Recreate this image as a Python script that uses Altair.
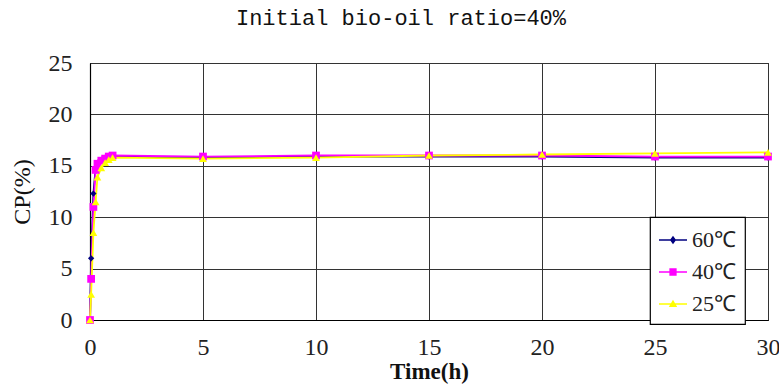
import altair as alt
import pandas as pd

# ---- data ----
times = [0, 0.05, 0.15, 0.25, 0.33, 0.5, 0.67, 0.83, 1, 5, 10, 15, 20, 25, 30]
cp_60 = [0, 6.0, 12.3, 14.8, 15.3, 15.6, 15.8, 15.9, 15.9, 15.8, 15.9, 15.9, 15.9, 15.8, 15.8]
cp_40 = [0, 4.0, 11.0, 14.6, 15.2, 15.5, 15.7, 15.9, 16.0, 15.9, 16.0, 16.0, 16.0, 15.9, 15.9]
cp_25 = [0, 2.5, 8.5, 11.5, 13.9, 14.8, 15.3, 15.6, 15.8, 15.7, 15.8, 16.0, 16.1, 16.2, 16.3]
series = ["60℃", "40℃", "25℃"]
colors = ["#000080", "#FF00FF", "#FFFF00"]
x_ticks = [0, 5, 10, 15, 20, 25, 30]
y_ticks = [0, 5, 10, 15, 20, 25]

rows = []
for name, vals in zip(series, [cp_60, cp_40, cp_25]):
    for t, v in zip(times, vals):
        rows.append({"Time": t, "CP": v, "Series": name})
df = pd.DataFrame(rows)

SERIF = "Liberation Serif"

x_enc = alt.X("Time:Q",
              scale=alt.Scale(domain=[0, 30], nice=False, zero=False),
              axis=alt.Axis(values=x_ticks, title="Time(h)", grid=True,
                            ticks=False, labelPadding=15, titlePadding=1,
                            labelFlush=False, format="d",
                            titleFontWeight="bold", titleFontSize=23))
y_enc = alt.Y("CP:Q",
              scale=alt.Scale(domain=[0, 25], nice=False),
              axis=alt.Axis(values=y_ticks, title="CP(%)", grid=True,
                            ticks=False, labelPadding=18, titlePadding=14,
                            labelFlush=False, format="d",
                            titleFontWeight="normal", titleFontSize=24))

leg = alt.Legend(title=None, orient="none", legendX=560, legendY=154,
                 fillColor="white", strokeColor="black",
                 padding=9, symbolSize=784, symbolOpacity=1,
                 symbolStrokeWidth=0,
                 labelFont=SERIF, labelFontSize=22, labelColor="#222222",
                 labelOffset=5, rowPadding=7)

color_enc = alt.Color("Series:N",
                      scale=alt.Scale(domain=series, range=colors),
                      legend=leg)

base = alt.Chart(df)

lines = base.mark_line(strokeWidth=1.8).encode(
    x=x_enc, y=y_enc, color=color_enc,
    order=alt.Order("Time:Q"))

shapes_plot = ["diamond", "square", "triangle-up"]
sizes_plot = [40, 60, 60]
point_layers = []
for name, shp, sz in zip(series, shapes_plot, sizes_plot):
    point_layers.append(
        base.transform_filter(alt.datum.Series == name)
        .mark_point(filled=True, shape=shp, size=sz, opacity=1)
        .encode(x=x_enc, y=y_enc, color=color_enc)
    )

# legend symbols: a short line with the series marker on it
legend_paths = [
    "M-1,-0.045L1,-0.045L1,0.045L-1,0.045ZM0,-0.3L0.22,0L0,0.3L-0.22,0Z",
    "M-1,-0.045L1,-0.045L1,0.045L-1,0.045ZM-0.26,-0.26L0.26,-0.26L0.26,0.26L-0.26,0.26Z",
    "M-1,-0.045L1,-0.045L1,0.045L-1,0.045ZM0,-0.3L0.3,0.22L-0.3,0.22Z",
]

legend_layer = base.transform_filter("false").mark_point(filled=True).encode(
    x=x_enc, y=y_enc,
    color=color_enc,
    shape=alt.Shape("Series:N",
                    scale=alt.Scale(domain=series, range=legend_paths),
                    legend=leg),
)

chart = alt.layer(lines, *point_layers, legend_layer).properties(
    width=678, height=257,
    padding={"left": 90, "top": 63, "right": 11, "bottom": 69},
    autosize=alt.AutoSizeParams(type="none"),
    background="white",
    title=alt.TitleParams("Initial bio-oil ratio=40%", font="Liberation Mono",
                          fontSize=22, fontWeight="normal", color="#111111",
                          anchor="middle", dx=-28, offset=21),
).configure_view(stroke="black", strokeWidth=1).configure_axis(
    domainColor="black", domainWidth=1.2, gridColor="#333333", gridWidth=1,
    gridOpacity=1, labelFont=SERIF, labelFontSize=24, labelColor="#222222",
    titleFont=SERIF, titleColor="#111111",
).configure_legend(strokeWidth=1.2)

chart.save("out.html", embed_options={"renderer": "svg", "actions": False})
